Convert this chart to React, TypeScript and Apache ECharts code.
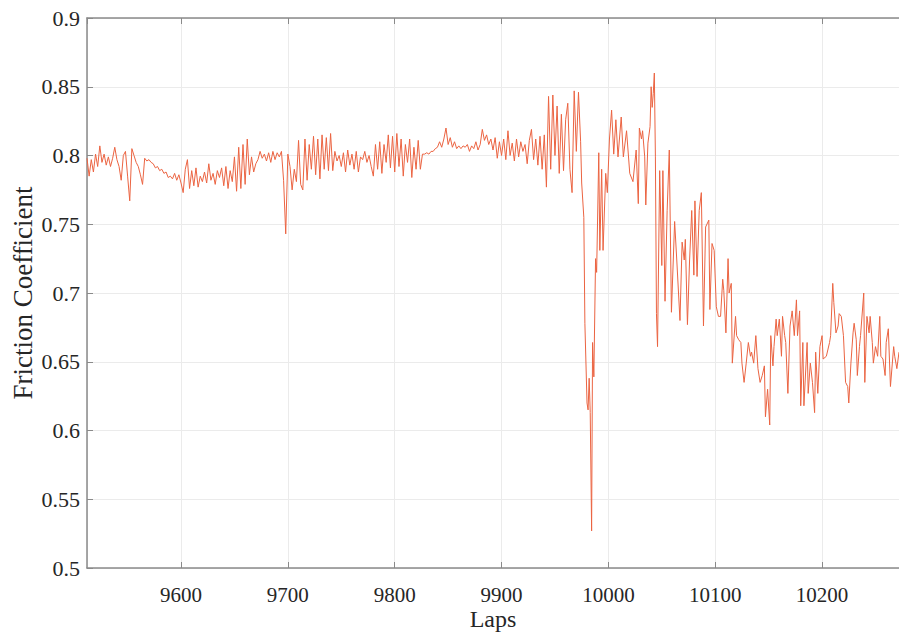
import React, { useEffect, useRef } from "react";
import * as echarts from "echarts";

// x axis: laps; y axis: friction coefficient
const lapMin = 9512;
const lapMax = 10272;
const yMin = 0.5;
const yMax = 0.9;
const yStep = 0.05;

const segA: [number, number][] = [
  [9512, 0.798], [9514, 0.785], [9516, 0.797], [9518, 0.788], [9520, 0.801], [9522, 0.792], [9524, 0.807], [9526, 0.795], [9528, 0.801], [9530, 0.793],
  [9532, 0.799], [9534, 0.792], [9536, 0.798], [9538, 0.806], [9540, 0.797], [9542, 0.792], [9544, 0.782], [9546, 0.8], [9548, 0.803], [9550, 0.785],
  [9552, 0.767], [9554, 0.805], [9556, 0.8], [9558, 0.795], [9560, 0.792], [9562, 0.786], [9564, 0.779], [9566, 0.798], [9568, 0.796], [9570, 0.797],
  [9572, 0.795], [9574, 0.794], [9576, 0.791], [9578, 0.792], [9580, 0.789], [9582, 0.79], [9584, 0.787], [9586, 0.788], [9588, 0.784], [9590, 0.785],
  [9592, 0.783], [9594, 0.787], [9596, 0.782], [9598, 0.786], [9600, 0.78],
];

const segB: [number, number][] = [
  [9602, 0.773], [9604, 0.79], [9606, 0.797], [9608, 0.776], [9610, 0.789], [9612, 0.778], [9614, 0.791], [9616, 0.777], [9618, 0.785], [9620, 0.781],
  [9622, 0.788], [9624, 0.78], [9626, 0.794], [9628, 0.782], [9630, 0.787], [9632, 0.779], [9634, 0.789], [9636, 0.784], [9638, 0.791], [9640, 0.778],
  [9642, 0.792], [9644, 0.776], [9646, 0.789], [9648, 0.781], [9650, 0.799], [9652, 0.774], [9654, 0.806], [9656, 0.776], [9658, 0.808], [9660, 0.779],
  [9662, 0.812], [9664, 0.786], [9666, 0.799], [9668, 0.788], [9670, 0.794], [9672, 0.797], [9674, 0.803], [9676, 0.798], [9678, 0.801], [9680, 0.796],
  [9682, 0.802], [9684, 0.795], [9686, 0.803], [9688, 0.797], [9690, 0.802], [9692, 0.799], [9694, 0.803], [9696, 0.782], [9698, 0.743], [9700, 0.801],
];

const segC: [number, number][] = [
  [9702, 0.792], [9704, 0.775], [9706, 0.79], [9708, 0.781], [9710, 0.811], [9712, 0.779], [9714, 0.775], [9716, 0.812], [9718, 0.782], [9720, 0.808],
  [9722, 0.79], [9724, 0.814], [9726, 0.786], [9728, 0.812], [9730, 0.783], [9732, 0.815], [9734, 0.79], [9736, 0.813], [9738, 0.789], [9740, 0.816],
  [9742, 0.789], [9744, 0.803], [9746, 0.796], [9748, 0.8], [9750, 0.792], [9752, 0.802], [9754, 0.788], [9756, 0.804], [9758, 0.793], [9760, 0.801],
  [9762, 0.79], [9764, 0.803], [9766, 0.788], [9768, 0.799], [9770, 0.797], [9772, 0.803], [9774, 0.795], [9776, 0.8], [9778, 0.792], [9780, 0.785],
  [9782, 0.808], [9784, 0.79], [9786, 0.81], [9788, 0.787], [9790, 0.808], [9792, 0.795], [9794, 0.815], [9796, 0.791], [9798, 0.814], [9800, 0.788],
];

const segD: [number, number][] = [
  [9802, 0.816], [9804, 0.792], [9806, 0.812], [9808, 0.785], [9810, 0.808], [9812, 0.795], [9814, 0.812], [9816, 0.784], [9818, 0.806], [9820, 0.79],
  [9822, 0.811], [9824, 0.79], [9826, 0.801], [9828, 0.801], [9830, 0.802], [9832, 0.801], [9834, 0.803], [9836, 0.803], [9838, 0.805], [9840, 0.806],
  [9842, 0.81], [9844, 0.806], [9846, 0.812], [9848, 0.82], [9850, 0.808], [9852, 0.813], [9854, 0.806], [9856, 0.81], [9858, 0.805], [9860, 0.807],
  [9862, 0.805], [9864, 0.807], [9866, 0.806], [9868, 0.808], [9870, 0.803], [9872, 0.807], [9874, 0.805], [9876, 0.81], [9878, 0.804], [9880, 0.808],
  [9882, 0.819], [9884, 0.811], [9886, 0.815], [9888, 0.808], [9890, 0.812], [9892, 0.804], [9894, 0.813], [9896, 0.798], [9898, 0.81], [9900, 0.8],
];

const segE: [number, number][] = [
  [9902, 0.812], [9904, 0.797], [9906, 0.818], [9908, 0.8], [9910, 0.809], [9912, 0.796], [9914, 0.812], [9916, 0.799], [9918, 0.81], [9920, 0.803],
  [9922, 0.808], [9924, 0.794], [9926, 0.811], [9928, 0.819], [9930, 0.797], [9932, 0.812], [9934, 0.793], [9936, 0.814], [9938, 0.79], [9940, 0.815],
  [9942, 0.777], [9944, 0.843], [9946, 0.79], [9948, 0.844], [9950, 0.8], [9952, 0.836], [9954, 0.787], [9956, 0.83], [9958, 0.789], [9960, 0.826],
  [9962, 0.838], [9964, 0.79], [9966, 0.773], [9968, 0.847], [9970, 0.803], [9972, 0.846], [9974, 0.81],
];

const segF: [number, number][] = [
  [9975, 0.78], [9977, 0.755], [9978, 0.678], [9980, 0.62], [9981, 0.615], [9982, 0.638], [9983, 0.613], [9984.3, 0.527], [9985.2, 0.664], [9986.4, 0.639],
  [9988, 0.725], [9989, 0.715], [9991, 0.802], [9992, 0.731], [9993.7, 0.79], [9995, 0.731], [9997.5, 0.787], [9999, 0.773], [10001, 0.812], [10003, 0.833],
  [10005, 0.801], [10007, 0.826], [10009, 0.799], [10012, 0.828], [10014, 0.799], [10017, 0.818], [10020, 0.787], [10023, 0.781], [10026, 0.804], [10028, 0.765],
  [10029, 0.82], [10031, 0.812], [10032, 0.818], [10034, 0.799], [10035, 0.764], [10037, 0.809], [10039, 0.821], [10040, 0.85], [10041, 0.835], [10042, 0.845],
  [10043, 0.86], [10044, 0.799], [10045, 0.685], [10046, 0.661],
];

const segG: [number, number][] = [
  [10048, 0.789], [10050, 0.72], [10051, 0.789], [10053, 0.694], [10055, 0.76], [10057, 0.804], [10059, 0.686], [10062, 0.752], [10064, 0.724], [10067, 0.68],
  [10069, 0.737], [10071, 0.724], [10072, 0.739], [10074, 0.677], [10076, 0.724], [10078, 0.76], [10080, 0.713], [10081, 0.767], [10083, 0.712], [10085, 0.76],
  [10087, 0.773], [10089, 0.676], [10091, 0.748], [10094, 0.753], [10095, 0.688], [10097, 0.736], [10099, 0.731], [10101, 0.69], [10103, 0.683], [10105, 0.683],
  [10107, 0.71], [10108, 0.702], [10110, 0.671], [10112, 0.725], [10113, 0.7], [10115, 0.707], [10116, 0.649], [10119, 0.683], [10120, 0.669], [10122, 0.666],
  [10124, 0.664], [10125, 0.649], [10127, 0.635], [10129, 0.649], [10131, 0.664], [10133, 0.654], [10134, 0.657], [10136, 0.649], [10138, 0.669], [10140, 0.645],
  [10142, 0.635], [10144, 0.64], [10146, 0.647], [10147, 0.61], [10149, 0.63], [10151, 0.604], [10152, 0.669],
];

const segH: [number, number][] = [
  [10154, 0.647], [10155, 0.661], [10157, 0.681], [10158, 0.669], [10160, 0.681], [10162, 0.654], [10163, 0.683], [10165, 0.669], [10166, 0.664], [10168, 0.627],
  [10170, 0.676], [10172, 0.687], [10174, 0.669], [10176, 0.695], [10177, 0.669], [10179, 0.687], [10180, 0.618], [10182, 0.664], [10183, 0.618], [10186, 0.664],
  [10187, 0.627], [10189, 0.649], [10191, 0.635], [10193, 0.613], [10194, 0.657], [10196, 0.627], [10198, 0.661], [10200, 0.669], [10201, 0.652], [10204, 0.654],
  [10207, 0.664], [10208, 0.669], [10210, 0.707], [10211, 0.693], [10213, 0.671], [10215, 0.676], [10216, 0.685], [10218, 0.683], [10220, 0.669], [10222, 0.635],
  [10224, 0.632], [10225, 0.62], [10227, 0.649], [10229, 0.671], [10230, 0.678], [10232, 0.666], [10233, 0.64], [10235, 0.661], [10236, 0.669], [10239, 0.7],
  [10240, 0.635], [10242, 0.683], [10244, 0.671], [10245, 0.683], [10247, 0.664], [10248, 0.649], [10250, 0.661], [10252, 0.654], [10254, 0.683], [10255, 0.654],
  [10257, 0.652], [10259, 0.64], [10260, 0.664], [10262, 0.674], [10264, 0.632], [10267, 0.661], [10268, 0.654], [10270, 0.645], [10272, 0.657],
];

const xTitle = "Laps";
const yTitle = "Friction Coefficient";

export default function App() {
  const ref = useRef<HTMLDivElement>(null);
  useEffect(() => {
    document.body.style.margin = "0";
    if (!ref.current) return;
    const chart = echarts.init(ref.current, undefined, { renderer: "svg" });
    const data = [...segA, ...segB, ...segC, ...segD, ...segE, ...segF, ...segG, ...segH];
    const axisColor = "#8a8a8a";
    const font = "'Liberation Serif', 'Times New Roman', serif";
    chart.setOption({
      animation: false,
      backgroundColor: "#ffffff",
      grid: { left: 87, right: 0, top: 18, bottom: 64, containLabel: false, outerBoundsMode: "none" },
      xAxis: [
        {
          type: "value",
          min: lapMin,
          max: lapMax,
          splitNumber: 8,
          position: "bottom",
          axisLine: { show: true, onZero: false, lineStyle: { color: axisColor, width: 1.5 } },
          axisTick: { show: true, inside: true, length: 6, lineStyle: { color: axisColor, width: 1 } },
          axisLabel: {
            showMinLabel: false,
            showMaxLabel: false,
            color: "#262626",
            fontFamily: font,
            fontSize: 21,
            lineHeight: 20,
            margin: 17,
            formatter: (v: number) => String(v),
          },
          splitLine: { show: true, lineStyle: { color: "#ebebeb", width: 1 } },
          name: xTitle,
          nameLocation: "middle",
          nameGap: 39,
          nameMoveOverlap: false,
          nameTextStyle: { color: "#262626", fontFamily: font, fontSize: 24, lineHeight: 24 },
        },
        {
          type: "value",
          min: lapMin,
          max: lapMax,
          splitNumber: 8,
          position: "top",
          axisLine: { show: true, onZero: false, lineStyle: { color: axisColor, width: 1.5 } },
          axisTick: { show: true, inside: true, length: 6, lineStyle: { color: axisColor, width: 1 } },
          axisLabel: { show: false },
          splitLine: { show: false },
        },
      ],
      yAxis: [
        {
          type: "value",
          min: yMin,
          max: yMax,
          interval: yStep,
          axisLine: { show: true, onZero: false, lineStyle: { color: axisColor, width: 1.5 } },
          axisTick: { show: true, inside: true, length: 6, lineStyle: { color: axisColor, width: 1 } },
          axisLabel: {
            color: "#262626",
            fontFamily: font,
            fontSize: 22,
            margin: 7,
            formatter: (v: number) => String(+v.toFixed(2)),
          },
          splitLine: { show: true, lineStyle: { color: "#ebebeb", width: 1 } },
          name: yTitle,
          nameLocation: "middle",
          nameGap: 51,
          nameRotate: 90,
          nameMoveOverlap: false,
          nameTextStyle: { color: "#262626", fontFamily: font, fontSize: 27 },
        },
      ],
      series: [
        {
          type: "line",
          xAxisIndex: 0,
          yAxisIndex: 0,
          data,
          symbol: "none",
          showSymbol: false,
          lineStyle: { color: "#eb6442", width: 1 },
        },
      ],
    });
    return () => chart.dispose();
  }, []);
  return <div ref={ref} style={{ width: 899, height: 632 }} />;
}
